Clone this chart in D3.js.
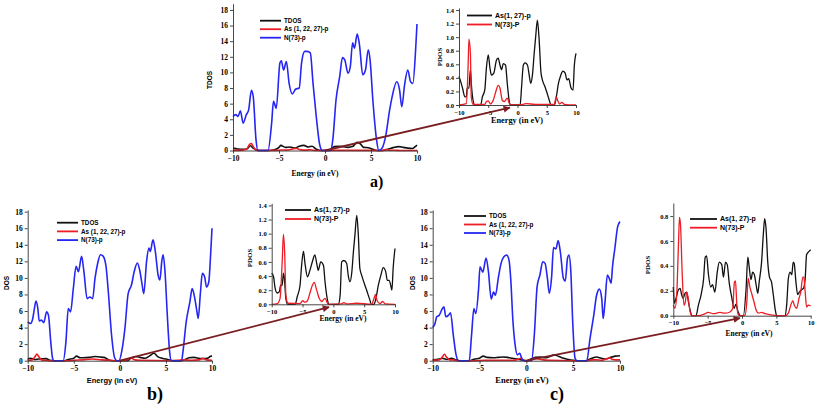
<!DOCTYPE html>
<html>
<head>
<meta charset="utf-8"/>
<style>
body { margin: 0; background: #fff; }
svg text { font-family: "Liberation Serif", serif; }
.lg { font-family: "Liberation Sans", Arial, sans-serif; font-weight: bold; }
</style>
</head>
<body>
<div id="fig"></div>
<script src="https://cdn.jsdelivr.net/npm/d3@7/dist/d3.min.js"></script>
<script>

// ---------- data (energy in eV, density of states) ----------

var energyTicks = [-10, -5, 0, 5, 10];
var mainTicks = [0, 2, 4, 6, 8, 10, 12, 14, 16, 18];
var insetTicks = [0, 0.2, 0.4, 0.6, 0.8, 1.0, 1.2, 1.4];
var insetTicksC = [0, 0.2, 0.4, 0.6, 0.8];

var mainLegend = ["TDOS", "As (1, 22, 27)-p", "N(73)-p"];
var insetLegend = ["As(1, 27)-p", "N(73)-P"];

// panel a) main
var aTdos = [[-10,0.3],[-9.5,0.2],[-9,0.15],[-8.5,0.2],[-8.1,0.6],[-7.8,0.3],[-7.5,0.1],[-7.1,0],[-6.1,0],[-5.5,0.1],[-5,0.4],[-4.8,0.65],[-4.3,0.4],[-3.8,0.45],[-3.3,0.3],[-2.8,0.55],[-2.3,0.65],[-1.8,0.45],[-1.4,0.55],[-1,0.2],[-0.5,0],[0.4,0],[1,0.5],[1.5,0.55],[2,0.5],[2.5,0.4],[3,0.5],[3.5,1.05],[3.8,0.9],[4.2,0.4],[4.7,0.35],[5.2,0.15],[5.6,0],[6.3,0],[6.8,0.15],[7.5,0.4],[8,0.5],[8.5,0.4],[9,0.3],[9.5,0.25],[9.8,0.5],[10,0.7]];
var aAs = [[-10,0.02],[-9,0.05],[-8.5,0.2],[-8.2,0.8],[-8.0,0.9],[-7.8,0.5],[-7.5,0.05],[-7,0],[-5.2,0.02],[-4.8,0.06],[-4.2,0.05],[-3.5,0.2],[-3.1,0.25],[-2.6,0.08],[-2,0.05],[-1.6,0.1],[-1.2,0],[1,0.02],[3,0.02],[6.2,0],[6.6,0.12],[7,0.04],[7.6,0.04],[8.2,0],[10,0]];
var aN73 = [[-10,4.35],[-9.7,4.6],[-9.45,4.35],[-9.2,5.1],[-8.9,3.5],[-8.55,4.6],[-8.3,5.2],[-8.0,7.7],[-7.8,6.9],[-7.5,1.4],[-7.3,0],[-6.2,0],[-5.8,3.5],[-5.6,6.3],[-5.3,5.4],[-4.9,11.2],[-4.75,11.5],[-4.5,10.3],[-4.2,11.4],[-3.9,8.6],[-3.55,7.25],[-3.2,7.85],[-2.8,8.0],[-2.55,11.2],[-2.2,12.7],[-1.95,12.7],[-1.6,12.5],[-1.3,8.6],[-0.95,4.35],[-0.6,0.9],[-0.3,0],[0.6,0],[0.85,1.4],[1.2,6.5],[1.6,9.5],[1.9,11.9],[2.15,11.6],[2.5,9.9],[2.75,10.75],[3.0,13.8],[3.2,13.1],[3.5,14.9],[3.75,13.5],[4.1,9.7],[4.4,10.3],[4.7,12.9],[4.9,11.6],[5.2,6.5],[5.6,1.4],[5.85,0],[6.2,0.3],[6.65,2.2],[7.0,5.0],[7.3,6.9],[7.8,8.8],[8.1,7.8],[8.35,5.6],[8.65,8.4],[9.0,10.3],[9.3,8.8],[9.55,8.6],[9.85,12.9],[10,16.2]];
// panel a) inset
var aInAs = [[-10,0.42],[-9.8,0.37],[-9.4,0.25],[-9.0,0.12],[-8.75,0.12],[-8.6,0.25],[-8.3,0.25],[-8.05,0.52],[-7.9,0.32],[-7.6,0.07],[-7.3,0],[-6.3,0],[-6.0,0.12],[-5.6,0.22],[-5.3,0.56],[-5.0,0.74],[-4.7,0.54],[-4.45,0.44],[-4.05,0.47],[-3.6,0.66],[-3.3,0.69],[-3.0,0.59],[-2.7,0.52],[-2.45,0.61],[-2.05,0.59],[-1.75,0.32],[-1.4,0.05],[-1.2,0],[0.45,0],[0.7,0.27],[1.0,0.59],[1.3,0.62],[1.7,0.59],[2.0,0.44],[2.25,0.32],[2.55,0.44],[2.85,0.76],[3.1,1.0],[3.4,1.25],[3.7,0.96],[4.0,0.49],[4.25,0.37],[4.7,0.27],[5.15,0.15],[5.5,0.05],[5.7,0],[6.3,0],[6.6,0.1],[7.0,0.32],[7.4,0.44],[7.75,0.5],[8.15,0.47],[8.45,0.37],[8.75,0.39],[9.15,0.25],[9.5,0.22],[9.7,0.56],[10,0.76]];
var aInN = [[-10,0],[-8.75,0.02],[-8.45,0.56],[-8.3,0.97],[-8.05,0.76],[-7.9,0.12],[-7.6,0.01],[-5.6,0.01],[-5.3,0.05],[-5.0,0.06],[-4.6,0.015],[-4.15,0.07],[-3.7,0.2],[-3.3,0.29],[-3.0,0.25],[-2.6,0.07],[-2.25,0.05],[-1.75,0.1],[-1.4,0.025],[-1.2,0],[1.0,0.01],[1.5,0.02],[3,0.01],[6.3,0.01],[6.6,0.12],[6.85,0.07],[7.2,0.015],[7.6,0.04],[8.0,0.01],[10,0]];

// panel b) main
var bTdos = [[-10,0.15],[-9.7,0.3],[-9.3,0.15],[-8.8,0.2],[-8,0.25],[-7.6,0.05],[-7.1,0],[-6,0],[-5.6,0.15],[-5,0.3],[-4.7,0.55],[-4.3,0.35],[-4,0.35],[-3.3,0.4],[-2.7,0.5],[-2.2,0.45],[-1.7,0.4],[-1.3,0.15],[-0.8,0],[0.8,0],[1.2,0.3],[1.7,0.5],[2.2,0.4],[2.7,0.3],[3.2,0.55],[3.7,0.9],[4.1,0.5],[4.6,0.3],[5.2,0.15],[5.8,0],[6.6,0],[7,0.1],[7.5,0.35],[8,0.4],[8.5,0.3],[9,0.25],[9.5,0.3],[9.8,0.5],[10,0.6]];
var bAs = [[-10,0.05],[-9.5,0.1],[-9.2,0.5],[-9.0,0.8],[-8.8,0.5],[-8.5,0.1],[-8,0.05],[-7.5,0],[-5.5,0],[-5,0.05],[-4,0.1],[-3,0.2],[-2,0.1],[-1,0.05],[-0.3,0],[0.6,0.05],[0.9,0.15],[1.2,0.35],[1.6,0.1],[2.2,0.05],[5.5,0],[7,0.1],[7.8,0.05],[8.6,0.1],[9,0.3],[9.4,0.1],[10,0.05]];
var bN73 = [[-10,4.7],[-9.7,4.5],[-9.45,5.1],[-9.3,6.1],[-9.1,7.2],[-8.9,6.3],[-8.75,4.8],[-8.5,4.9],[-8.25,4.6],[-7.95,5.9],[-7.75,5.5],[-7.5,2.3],[-7.3,0.3],[-7.15,0],[-6.15,0],[-5.85,2.3],[-5.6,6.3],[-5.35,5.9],[-5.05,8.7],[-4.75,11.4],[-4.5,10.75],[-4.15,12.6],[-3.9,10.75],[-3.55,7.5],[-3.25,7.7],[-2.95,7.5],[-2.7,9.9],[-2.4,11.8],[-2.1,12.8],[-1.8,12.6],[-1.5,11.4],[-1.25,8.3],[-0.9,3.1],[-0.55,0.3],[-0.3,0],[-0.1,0],[0.2,1.1],[0.55,3.9],[0.9,8.1],[1.25,9.1],[1.6,10.95],[1.9,11.8],[2.15,10.95],[2.4,9.3],[2.6,8.1],[2.9,12.0],[3.15,13.6],[3.3,13.2],[3.6,14.6],[3.85,13.2],[4.15,10.35],[4.35,9.75],[4.55,12.0],[4.7,12.8],[4.9,10.75],[5.15,5.5],[5.4,1.1],[5.6,0],[6.7,0],[6.85,1.1],[7.2,4.7],[7.6,7.1],[7.85,8.7],[8.1,7.7],[8.4,5.7],[8.5,5.1],[8.75,8.3],[8.95,10.55],[9.2,10.15],[9.4,8.9],[9.65,9.5],[9.85,12.8],[10,16.0]];
// panel b) inset
var bInAs = [[-10,0.44],[-9.7,0.39],[-9.45,0.23],[-9.1,0.16],[-8.75,0.18],[-8.55,0.27],[-8.3,0.27],[-8.1,0.44],[-7.95,0.37],[-7.7,0.08],[-7.4,0],[-6.2,0],[-5.85,0.11],[-5.4,0.27],[-5.15,0.55],[-4.85,0.75],[-4.6,0.58],[-4.2,0.39],[-3.8,0.48],[-3.35,0.62],[-3.0,0.7],[-2.7,0.58],[-2.45,0.48],[-2.05,0.6],[-1.6,0.55],[-1.35,0.32],[-0.95,0.06],[-0.65,0],[0.8,0],[1.1,0.13],[1.35,0.6],[1.7,0.62],[2.15,0.58],[2.45,0.39],[2.7,0.32],[3.0,0.46],[3.25,0.74],[3.5,0.98],[3.8,1.26],[4.05,0.98],[4.3,0.51],[4.6,0.41],[5.0,0.3],[5.4,0.2],[5.85,0.08],[6.2,0],[6.6,0],[6.9,0.08],[7.3,0.27],[7.7,0.41],[8.1,0.52],[8.5,0.46],[8.75,0.34],[9.05,0.34],[9.3,0.27],[9.5,0.2],[9.7,0.51],[10,0.79]];
var bInN = [[-10,0],[-9.1,0.01],[-8.65,0.08],[-8.3,0.6],[-8.1,0.99],[-7.9,0.74],[-7.7,0.13],[-7.35,0.015],[-5.4,0.01],[-4.97,0.05],[-4.6,0.03],[-4.2,0.05],[-3.8,0.16],[-3.4,0.27],[-3.1,0.31],[-2.7,0.2],[-2.3,0.085],[-1.9,0.04],[-1.35,0.085],[-0.95,0.015],[-0.65,0],[1.3,0.005],[1.7,0.025],[2.15,0.005],[3.8,0.015],[6.2,0],[6.6,0.085],[6.85,0.14],[7.1,0.05],[7.55,0.01],[8.0,0.04],[8.4,0.005],[10,0]];

// panel c) main
var cTdos = [[-10,0.1],[-9.3,0.2],[-9,0.3],[-8.5,0.15],[-8,0.3],[-7.5,0.1],[-7.1,0],[-6.1,0],[-5.5,0.2],[-5,0.3],[-4.6,0.55],[-4.2,0.4],[-3.5,0.35],[-3,0.4],[-2.5,0.45],[-2,0.4],[-1.5,0.3],[-1,0.2],[-0.5,0.1],[0,0],[0.5,0.2],[1,0.4],[1.5,0.45],[2,0.35],[2.5,0.5],[3,0.7],[3.5,0.5],[4,0.3],[4.5,0.15],[5,0.05],[5.5,0],[6.3,0],[6.6,0.1],[7,0.3],[7.5,0.45],[8,0.3],[8.5,0.2],[9,0.4],[9.5,0.55],[10,0.6]];
var cAs = [[-10,0.05],[-9.3,0.1],[-9.0,0.4],[-8.75,0.77],[-8.5,0.4],[-8.2,0.1],[-7.8,0.1],[-7.4,0],[-5.5,0],[-4.5,0.05],[-3,0.05],[-1.5,0.05],[-0.9,0.15],[-0.6,0.3],[-0.3,0.05],[0,0],[0.5,0.05],[0.9,0.3],[1.2,0.25],[1.8,0.1],[2.5,0.05],[5,0],[6.5,0],[7,0.1],[7.5,0.1],[8,0.05],[8.5,0.2],[8.9,0.35],[9.2,0.15],[9.6,0.1],[10,0.1]];
var cN73 = [[-10,4.0],[-9.75,4.5],[-9.57,5.3],[-9.3,5.5],[-9.05,6.1],[-8.8,6.5],[-8.6,5.3],[-8.3,5.5],[-8.1,5.8],[-7.8,3.1],[-7.5,0.7],[-7.25,0],[-6.1,0],[-5.85,3.1],[-5.6,6.3],[-5.4,5.7],[-5.1,8.7],[-4.95,11.35],[-4.65,10.7],[-4.3,12.4],[-4.05,10.75],[-3.75,7.45],[-3.5,8.3],[-3.3,7.9],[-3.0,9.95],[-2.7,11.75],[-2.4,12.55],[-2.1,12.75],[-1.85,12.15],[-1.65,9.55],[-1.45,5.1],[-1.2,1.9],[-0.95,0.7],[-0.7,0.9],[-0.5,0.3],[-0.25,0],[0.55,0],[0.85,3.1],[1.15,8.95],[1.45,10.35],[1.75,11.95],[2.0,11.75],[2.25,9.95],[2.45,8.15],[2.7,10.15],[2.9,13.65],[3.15,13.5],[3.4,14.5],[3.65,12.95],[3.95,9.95],[4.15,9.6],[4.4,12.4],[4.55,12.75],[4.75,10.75],[4.95,4.7],[5.2,0.3],[5.4,0],[6.45,0],[6.8,2.7],[7.2,5.5],[7.5,7.9],[7.8,8.65],[8.05,7.5],[8.2,5.1],[8.4,7.1],[8.65,10.35],[8.85,9.95],[9.05,9.35],[9.2,11.35],[9.45,13.55],[9.75,16.2],[10,16.8]];
// panel c) inset
var cInAs = [[-10,0.23],[-9.85,0.1],[-9.6,0.14],[-9.25,0.21],[-9.0,0.22],[-8.8,0.17],[-8.55,0.14],[-8.3,0.18],[-8.05,0.19],[-7.8,0.11],[-7.55,0.045],[-7.3,0],[-6.7,0],[-6.35,0.085],[-5.95,0.17],[-5.6,0.29],[-5.35,0.47],[-5.15,0.48],[-4.9,0.34],[-4.55,0.23],[-4.3,0.25],[-3.95,0.19],[-3.6,0.35],[-3.3,0.43],[-2.95,0.41],[-2.7,0.31],[-2.4,0.43],[-2.15,0.41],[-1.85,0.26],[-1.5,0.15],[-1.15,0.06],[-0.9,0.09],[-0.55,0.03],[-0.2,0],[0.2,0],[0.6,0.22],[0.85,0.47],[1.05,0.39],[1.3,0.29],[1.55,0.35],[1.8,0.33],[2.05,0.25],[2.3,0.18],[2.5,0.27],[2.85,0.43],[3.1,0.65],[3.3,0.78],[3.5,0.7],[3.75,0.43],[4.0,0.31],[4.3,0.27],[4.55,0.17],[4.85,0.045],[5.05,0],[6.25,0],[6.5,0.085],[6.75,0.3],[7.0,0.35],[7.25,0.33],[7.45,0.43],[7.6,0.42],[7.85,0.27],[8.1,0.17],[8.35,0.19],[8.7,0.21],[8.95,0.22],[9.2,0.3],[9.4,0.49],[9.65,0.51],[10,0.53]];
var cInN = [[-10,0.085],[-9.75,0.06],[-9.5,0.17],[-9.25,0.57],[-9.1,0.79],[-8.95,0.73],[-8.7,0.33],[-8.45,0.085],[-8.25,0.11],[-8.05,0.19],[-7.8,0.13],[-7.55,0.03],[-7.3,0],[-6.3,0],[-5.6,0.01],[-4.9,0.027],[-4.2,0.016],[-3.2,0.027],[-2.5,0.02],[-1.75,0.03],[-1.35,0.06],[-1.1,0.27],[-0.95,0.28],[-0.75,0.085],[-0.55,0.01],[-0.2,0],[0.45,0.005],[0.7,0.11],[0.9,0.3],[1.15,0.23],[1.45,0.17],[1.75,0.11],[2.05,0.045],[2.4,0.02],[2.85,0.027],[3.35,0.016],[3.85,0.01],[4.55,0.005],[5.05,0],[6.3,0],[6.75,0.02],[7.1,0.085],[7.4,0.12],[7.6,0.085],[7.95,0.06],[8.3,0.14],[8.55,0.19],[8.85,0.31],[9.0,0.31],[9.2,0.19],[9.4,0.07],[9.65,0.085],[10,0.08]];

// arrow ends: [energy, dos] on main panel -> [energy, pdos] on inset
var arrowEnds = [
  {from: "a", to: "aIn", p0: [0, 0], p1: [-1.3, -0.04]},
  {from: "b", to: "bIn", p0: [0, 0], p1: [-0.7, -0.04]},
  {from: "c", to: "cIn", p0: [0, 0], p1: [-0.3, -0.02]}
];

// ---------- layout ----------

var W = 817, H = 405;
var BLACK = "#111111", RED = "#ee1c24", BLUE = "#2626f2", ARROW = "#7a1e22";

var panels = [
  {id: "a", x0: 233, x1: 417, y0: 150.5, y1: 3.7, ytop: 18.8, ticks: mainTicks, fmt: d3.format("d"), fs: 7.5,
   series: [[aTdos, BLACK], [aAs, RED], [aN73, BLUE]], lw: 1.6,
   legend: {names: mainLegend, x: 260, y: 20.7, dy: 8.5, len: 21, fs: 6.3},
   ylab: {t: "TDOS", x: 210, y: 80, sans: true, fs: 6.5},
   xlab: {t: "Energy (in eV)", x: 315, y: 173, sans: false, fs: 7.5}},
  {id: "aIn", x0: 459, x1: 576, y0: 105, y1: 8, ytop: 1.43, ticks: insetTicks, fmt: d3.format(".1f"), fs: 6.5,
   series: [[aInAs, BLACK], [aInN, RED]], lw: 1.3,
   legend: {names: insetLegend, x: 467, y: 15.5, dy: 9, len: 25, fs: 7},
   ylab: {t: "PDOS", x: 440, y: 57, sans: false, fs: 7},
   xlab: {t: "Energy (in eV)", x: 517, y: 120.5, sans: false, fs: 8.3}},
  {id: "b", x0: 27.7, x1: 212, y0: 360.7, y1: 210, ytop: 18.2, ticks: mainTicks, fmt: d3.format("d"), fs: 7.5,
   series: [[bTdos, BLACK], [bAs, RED], [bN73, BLUE]], lw: 1.6,
   legend: {names: mainLegend, x: 57, y: 222.7, dy: 8.7, len: 21, fs: 6.3},
   ylab: {t: "DOS", x: 7, y: 283, sans: true, fs: 6.5},
   xlab: {t: "Energy (in eV)", x: 112, y: 380, sans: true, fs: 7.5}},
  {id: "bIn", x0: 271.7, x1: 395, y0: 304.3, y1: 203.3, ytop: 1.43, ticks: insetTicks, fmt: d3.format(".1f"), fs: 6.5,
   series: [[bInAs, BLACK], [bInN, RED]], lw: 1.3,
   legend: {names: insetLegend, x: 285, y: 210, dy: 9, len: 26, fs: 7},
   ylab: {t: "PDOS", x: 250, y: 258, sans: false, fs: 7},
   xlab: {t: "Energy (in eV)", x: 343, y: 318, sans: false, fs: 7.5}},
  {id: "c", x0: 432.7, x1: 620, y0: 360.7, y1: 210, ytop: 18.2, ticks: mainTicks, fmt: d3.format("d"), fs: 7.5,
   series: [[cTdos, BLACK], [cAs, RED], [cN73, BLUE]], lw: 1.6,
   legend: {names: mainLegend, x: 464, y: 216, dy: 8.5, len: 22, fs: 6.3},
   ylab: {t: "DOS", x: 413, y: 283, sans: true, fs: 6.5},
   xlab: {t: "Energy (in eV)", x: 522, y: 380, sans: false, fs: 8.5}},
  {id: "cIn", x0: 673.3, x1: 810.7, y0: 315.7, y1: 203, ytop: 0.905, ticks: insetTicksC, fmt: d3.format(".1f"), fs: 6.5,
   series: [[cInAs, BLACK], [cInN, RED]], lw: 1.3,
   legend: {names: insetLegend, x: 690, y: 219, dy: 8.7, len: 27, fs: 7},
   ylab: {t: "PDOS", x: 648, y: 265, sans: false, fs: 7},
   xlab: {t: "Energy (in eV)", x: 749, y: 333, sans: false, fs: 7.5}}
];

var tags = [{t: "a)", x: 370, y: 187, fs: 16}, {t: "b)", x: 147, y: 400, fs: 18}, {t: "c)", x: 550, y: 400, fs: 18}];

// ---------- drawing ----------

var svg = d3.select("#fig").append("svg")
    .attr("width", W).attr("height", H)
    .style("display", "block");

svg.append("defs").append("marker")
    .attr("id", "head")
    .attr("viewBox", "0 0 10 10")
    .attr("refX", 9).attr("refY", 5)
    .attr("markerUnits", "userSpaceOnUse")
    .attr("markerWidth", 8).attr("markerHeight", 7)
    .attr("orient", "auto")
  .append("path")
    .attr("d", "M0,0 L10,5 L0,10 z")
    .attr("fill", ARROW);

var scales = {};

panels.forEach(function(p) {
  var x = d3.scaleLinear().domain([-10, 10]).range([p.x0, p.x1]);
  var y = d3.scaleLinear().domain([0, p.ytop]).range([p.y0, p.y1]);
  scales[p.id] = {x: x, y: y};

  var g = svg.append("g").attr("class", "panel-" + p.id);

  var line = d3.line()
      .x(function(d) { return x(d[0]); })
      .y(function(d) { return y(Math.max(0, d[1])); })
      .curve(d3.curveMonotoneX);

  p.series.forEach(function(s) {
    g.append("path")
      .datum(s[0])
      .attr("d", line)
      .attr("fill", "none")
      .attr("stroke", s[1])
      .attr("stroke-width", p.lw)
      .attr("stroke-linejoin", "round");
  });

  var ax = g.append("g")
      .attr("transform", "translate(0," + p.y0 + ")")
      .call(d3.axisBottom(x).tickValues(energyTicks).tickSize(3).tickSizeOuter(0).tickPadding(2));
  var ay = g.append("g")
      .attr("transform", "translate(" + p.x0 + ",0)")
      .call(d3.axisLeft(y).tickValues(p.ticks).tickFormat(p.fmt).tickSize(3).tickSizeOuter(0).tickPadding(2));

  [ax, ay].forEach(function(a) {
    a.selectAll("path, line").attr("stroke", "#333").attr("stroke-width", 0.9);
    a.selectAll("text")
      .attr("fill", "#000")
      .style("font-family", "'Liberation Serif', serif")
      .style("font-weight", "bold")
      .style("font-size", p.fs + "px");
  });

  // legend
  var lg = g.append("g");
  p.legend.names.forEach(function(n, i) {
    var yy = p.legend.y + i * p.legend.dy;
    lg.append("line")
      .attr("x1", p.legend.x).attr("x2", p.legend.x + p.legend.len)
      .attr("y1", yy).attr("y2", yy)
      .attr("stroke", p.series[i][1])
      .attr("stroke-width", 1.8);
    lg.append("text")
      .attr("class", "lg")
      .attr("x", p.legend.x + p.legend.len + 3)
      .attr("y", yy)
      .attr("dy", "0.35em")
      .style("font-size", p.legend.fs + "px")
      .text(n);
  });

  // axis titles
  g.append("text")
    .attr("transform", "translate(" + p.ylab.x + "," + p.ylab.y + ") rotate(-90)")
    .attr("text-anchor", "middle")
    .attr("dy", "0.35em")
    .style("font-family", p.ylab.sans ? "'Liberation Sans', sans-serif" : "'Liberation Serif', serif")
    .style("font-weight", "bold")
    .style("font-size", p.ylab.fs + "px")
    .text(p.ylab.t);

  g.append("text")
    .attr("x", p.xlab.x).attr("y", p.xlab.y)
    .attr("text-anchor", "middle")
    .attr("dy", "0.35em")
    .style("font-family", p.xlab.sans ? "'Liberation Sans', sans-serif" : "'Liberation Serif', serif")
    .style("font-weight", "bold")
    .style("font-size", p.xlab.fs + "px")
    .text(p.xlab.t);
});

// arrows from main panel origin to inset
arrowEnds.forEach(function(a) {
  var s0 = scales[a.from], s1 = scales[a.to];
  svg.append("line")
    .attr("x1", s0.x(a.p0[0])).attr("y1", s0.y(a.p0[1]))
    .attr("x2", s1.x(a.p1[0])).attr("y2", s1.y(a.p1[1]))
    .attr("stroke", ARROW)
    .attr("stroke-width", 1.8)
    .attr("marker-end", "url(#head)");
});

// figure tags
tags.forEach(function(t) {
  svg.append("text")
    .attr("x", t.x).attr("y", t.y)
    .style("font-family", "'Liberation Serif', serif")
    .style("font-weight", "bold")
    .style("font-size", t.fs + "px")
    .text(t.t);
});

</script>
</body>
</html>
